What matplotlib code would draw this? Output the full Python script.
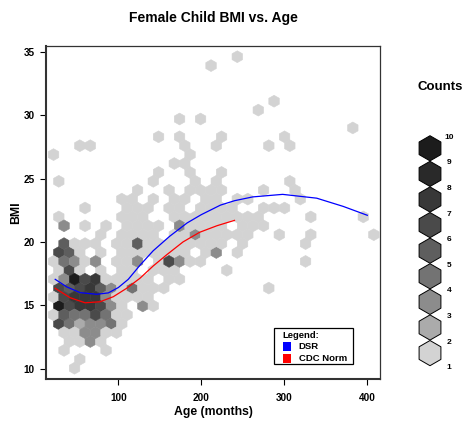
import numpy as np
import matplotlib
matplotlib.use("Agg")
import matplotlib.pyplot as plt
from matplotlib.colors import ListedColormap, BoundaryNorm
from matplotlib.patches import RegularPolygon, Rectangle

plt.rcParams['font.family'] = ['Liberation Sans', 'DejaVu Sans']
plt.rcParams['font.weight'] = 'bold'

# hexagon cells: centre age (months), centre BMI, count
cell_age = [
    243.37,
    211.75,
    287.65,
    268.67,
    173.79, 199.10,
    382.53,
    148.49, 173.79, 224.40, 300.30,
    53.61, 66.26, 180.12, 218.07, 281.33, 306.63,
    21.99, 186.45,
    167.47, 180.12,
    148.49, 186.45, 224.40,
    28.31, 142.17, 192.77, 218.07, 306.63,
    123.19, 161.14, 186.45, 199.10, 211.75, 224.40, 275.00, 312.95,
    104.22, 116.87, 142.17, 167.47, 180.12, 205.42, 218.07, 243.37, 256.02, 319.28,
    59.94, 110.54, 123.19, 135.84, 161.14, 173.79, 199.10, 211.75, 224.40, 237.05, 275.00, 287.65, 300.30,
    28.31, 104.22, 116.87, 129.52, 167.47, 180.12, 192.77, 205.42, 218.07, 230.72, 243.37, 256.02, 268.67, 331.93, 395.18,
    34.64, 59.94, 85.24, 110.54, 123.19, 135.84, 148.49, 173.79, 186.45, 199.10, 211.75, 224.40, 249.70, 262.35, 275.00,
    78.92, 104.22, 116.87, 129.52, 142.17, 167.47, 180.12, 192.77, 205.42, 218.07, 230.72, 243.37, 256.02, 293.98, 331.93, 407.83,
    34.64, 47.29, 59.94, 72.59, 97.89, 110.54, 123.19, 135.84, 148.49, 161.14, 173.79, 186.45, 199.10, 211.75, 224.40, 249.70, 325.60,
    28.31, 40.96, 53.61, 78.92, 104.22, 116.87, 129.52, 142.17, 154.82, 167.47, 180.12, 205.42, 218.07, 243.37,
    21.99, 34.64, 47.29, 59.94, 72.59, 97.89, 110.54, 123.19, 148.49, 161.14, 173.79, 186.45, 199.10, 325.60,
    28.31, 40.96, 53.61, 78.92, 104.22, 116.87, 142.17, 154.82, 167.47, 230.72,
    21.99, 34.64, 47.29, 59.94, 72.59, 85.24, 97.89, 110.54, 123.19, 135.84, 161.14, 173.79,
    28.31, 40.96, 53.61, 66.26, 78.92, 91.57, 104.22, 116.87, 129.52, 142.17, 154.82, 281.33,
    21.99, 34.64, 47.29, 59.94, 72.59, 85.24, 97.89, 110.54, 123.19, 135.84,
    28.31, 40.96, 53.61, 66.26, 78.92, 91.57, 104.22, 129.52, 142.17,
    21.99, 34.64, 47.29, 59.94, 72.59, 85.24, 97.89, 110.54,
    28.31, 40.96, 53.61, 66.26, 78.92, 91.57, 104.22,
    34.64, 47.29, 59.94, 72.59, 85.24, 97.89,
    40.96, 53.61, 66.26, 78.92,
    34.64, 85.24,
    53.61,
    47.29,
]
cell_bmi = [
    34.61,
    33.90,
    31.10,
    30.39,
    29.69, 29.69,
    28.99,
    28.29, 28.29, 28.29, 28.29,
    27.59, 27.59, 27.59, 27.59, 27.59, 27.59,
    26.88, 26.88,
    26.18, 26.18,
    25.48, 25.48, 25.48,
    24.78, 24.78, 24.78, 24.78, 24.78,
    24.08, 24.08, 24.08, 24.08, 24.08, 24.08, 24.08, 24.08,
    23.38, 23.38, 23.38, 23.38, 23.38, 23.38, 23.38, 23.38, 23.38, 23.38,
    22.67, 22.67, 22.67, 22.67, 22.67, 22.67, 22.67, 22.67, 22.67, 22.67, 22.67, 22.67, 22.67,
    21.97, 21.97, 21.97, 21.97, 21.97, 21.97, 21.97, 21.97, 21.97, 21.97, 21.97, 21.97, 21.97, 21.97, 21.97,
    21.27, 21.27, 21.27, 21.27, 21.27, 21.27, 21.27, 21.27, 21.27, 21.27, 21.27, 21.27, 21.27, 21.27, 21.27,
    20.57, 20.57, 20.57, 20.57, 20.57, 20.57, 20.57, 20.57, 20.57, 20.57, 20.57, 20.57, 20.57, 20.57, 20.57, 20.57,
    19.87, 19.87, 19.87, 19.87, 19.87, 19.87, 19.87, 19.87, 19.87, 19.87, 19.87, 19.87, 19.87, 19.87, 19.87, 19.87, 19.87,
    19.17, 19.17, 19.17, 19.17, 19.17, 19.17, 19.17, 19.17, 19.17, 19.17, 19.17, 19.17, 19.17, 19.17,
    18.46, 18.46, 18.46, 18.46, 18.46, 18.46, 18.46, 18.46, 18.46, 18.46, 18.46, 18.46, 18.46, 18.46,
    17.76, 17.76, 17.76, 17.76, 17.76, 17.76, 17.76, 17.76, 17.76, 17.76,
    17.06, 17.06, 17.06, 17.06, 17.06, 17.06, 17.06, 17.06, 17.06, 17.06, 17.06, 17.06,
    16.36, 16.36, 16.36, 16.36, 16.36, 16.36, 16.36, 16.36, 16.36, 16.36, 16.36, 16.36,
    15.66, 15.66, 15.66, 15.66, 15.66, 15.66, 15.66, 15.66, 15.66, 15.66,
    14.95, 14.95, 14.95, 14.95, 14.95, 14.95, 14.95, 14.95, 14.95,
    14.25, 14.25, 14.25, 14.25, 14.25, 14.25, 14.25, 14.25,
    13.55, 13.55, 13.55, 13.55, 13.55, 13.55, 13.55,
    12.85, 12.85, 12.85, 12.85, 12.85, 12.85,
    12.14, 12.14, 12.14, 12.14,
    11.44, 11.44,
    10.74,
    10.04,
]
cell_count = [
    1,
    1,
    1,
    1,
    1, 1,
    1,
    1, 1, 1, 1,
    1, 1, 1, 1, 1, 1,
    1, 1,
    1, 1,
    1, 1, 1,
    1, 1, 1, 1, 1,
    1, 1, 1, 1, 1, 1, 1, 1,
    1, 1, 1, 1, 1, 1, 1, 1, 1, 1,
    1, 1, 1, 1, 1, 1, 1, 1, 1, 1, 1, 1, 1,
    1, 1, 1, 1, 1, 1, 1, 1, 1, 1, 1, 1, 1, 1, 1,
    4, 1, 1, 1, 1, 1, 1, 4, 1, 1, 1, 1, 1, 1, 1,
    1, 1, 1, 1, 1, 1, 1, 4, 1, 1, 1, 1, 1, 1, 1, 1,
    6, 1, 1, 1, 1, 1, 6, 1, 1, 1, 1, 1, 1, 1, 1, 1, 1,
    7, 6, 1, 1, 1, 1, 1, 1, 1, 1, 1, 1, 4, 1,
    1, 5, 4, 1, 4, 1, 1, 4, 1, 7, 4, 1, 1, 1,
    1, 7, 1, 1, 1, 1, 1, 1, 1, 1,
    1, 4, 10, 7, 8, 1, 1, 1, 1, 1, 1, 1,
    7, 6, 7, 8, 6, 4, 1, 5, 1, 1, 1, 1,
    1, 7, 8, 8, 8, 4, 1, 1, 1, 1,
    10, 7, 8, 8, 7, 4, 1, 4, 1,
    1, 6, 5, 5, 7, 5, 1, 1,
    7, 5, 3, 4, 4, 5, 1,
    1, 1, 4, 4, 1, 1,
    1, 1, 4, 1,
    1, 1,
    1,
    1,
]

# fitted curves
dsr_age = [24, 38, 54, 74, 88, 100, 112, 126, 142, 162, 183, 200, 223, 240, 262, 298, 339, 371, 400]
dsr_bmi = [17.05, 16.45, 16.0, 15.87, 15.98, 16.4, 17.05, 18.15, 19.3, 20.45, 21.5, 22.15, 22.9, 23.25, 23.55, 23.75, 23.45, 22.8, 22.1]
cdc_age = [24, 42, 60, 78, 94, 110, 126, 142, 158, 178, 198, 219, 240]
cdc_bmi = [16.34, 15.6, 15.2, 15.28, 15.68, 16.34, 17.13, 18.1, 18.97, 20.0, 20.76, 21.28, 21.7]

count_levels = [1, 2, 3, 4, 5, 6, 7, 8, 9, 10]
grays = ['#D3D3D3', '#ABABAB', '#8C8C8C', '#737373', '#5E5E5E',
         '#4A4A4A', '#383838', '#292929', '#1C1C1C']

cmap = ListedColormap(grays)
norm = BoundaryNorm([0.5, 2.5, 3.5, 4.5, 5.5, 6.5, 7.5, 8.5, 9.5, 10.5], cmap.N)

fig = plt.figure(figsize=(4.7, 4.22), dpi=100)
ax = fig.add_axes([46/470, 1 - 379/422, 334/470, 333/422])

ax.hexbin(cell_age, cell_bmi, C=cell_count, reduce_C_function=np.max,
          gridsize=(34, 21), extent=(-9.639, 420.48, 7.934, 37.413),
          cmap=cmap, norm=norm, edgecolors='face', linewidths=0.4, zorder=1)

ax.plot(dsr_age, dsr_bmi, color='blue', lw=0.9, zorder=3)
ax.plot(cdc_age, cdc_bmi, color='red', lw=0.9, zorder=3)

ax.set_xlim(12.9, 415.3)
ax.set_ylim(9.19, 35.45)
ax.set_xticks([100, 200, 300, 400])
ax.set_yticks([10, 15, 20, 25, 30, 35])
ax.tick_params(direction='out', length=4, width=0.8, labelsize=7.2, colors='black')
ax.tick_params(axis='x', pad=6)
ax.tick_params(axis='y', pad=4)
for s in ax.spines.values():
    s.set_color('#333333')
    s.set_linewidth(0.9)
ax.spines['left'].set_linewidth(1.5)
ax.spines['bottom'].set_linewidth(1.5)

# legend box inside the plot
def fx(px):
    return (px - 46) / 334

def fy(py):
    return (379 - py) / 333

ax.add_patch(Rectangle((fx(274), fy(364)), fx(353.3) - fx(274), fy(327.7) - fy(364),
                       transform=ax.transAxes, facecolor='white', edgecolor='black',
                       lw=0.9, zorder=5))
ax.text(fx(282.7), fy(335), 'Legend:', transform=ax.transAxes, fontsize=6.8,
        ha='left', va='center', zorder=6)
for name, col, yc in [('DSR', 'blue', 346.2), ('CDC Norm', 'red', 358.7)]:
    ax.add_patch(Rectangle((fx(282.7), fy(yc + 4.3)), fx(291) - fx(282.7), fy(yc - 4.3) - fy(yc + 4.3),
                           transform=ax.transAxes, facecolor=col, edgecolor='none', zorder=6))
    ax.text(fx(298.7), fy(yc), name, transform=ax.transAxes, fontsize=6.8,
            ha='left', va='center', zorder=6)

fig.text(213/470, 1 - 18/422, 'Female Child BMI vs. Age', ha='center', va='center', fontsize=10)
fig.text(213.5/470, 1 - 412/422, 'Age (months)', ha='center', va='center', fontsize=8.8)
fig.text(16/470, 1 - 212.5/422, 'BMI', ha='center', va='center', rotation=90, fontsize=8.8)

# counts key on the right
axc = fig.add_axes([400/470, 1 - 390/422, 70/470, 330/422])
axc.set_xlim(400, 470)
axc.set_ylim(390, 60)
axc.axis('off')
axc.text(440, 87, 'Counts', ha='center', va='center', fontsize=9.5)
for j, col in enumerate(grays[::-1]):
    axc.add_patch(RegularPolygon((430, 148.3 + 25.6 * j), numVertices=6, radius=12.6,
                                 facecolor=col, edgecolor='black', lw=0.7))
for j, lev in enumerate(count_levels[::-1]):
    axc.text(449, 137.3 + 25.6 * j, str(lev), ha='center', va='center', fontsize=6)

fig.savefig('out.png', dpi=100)
